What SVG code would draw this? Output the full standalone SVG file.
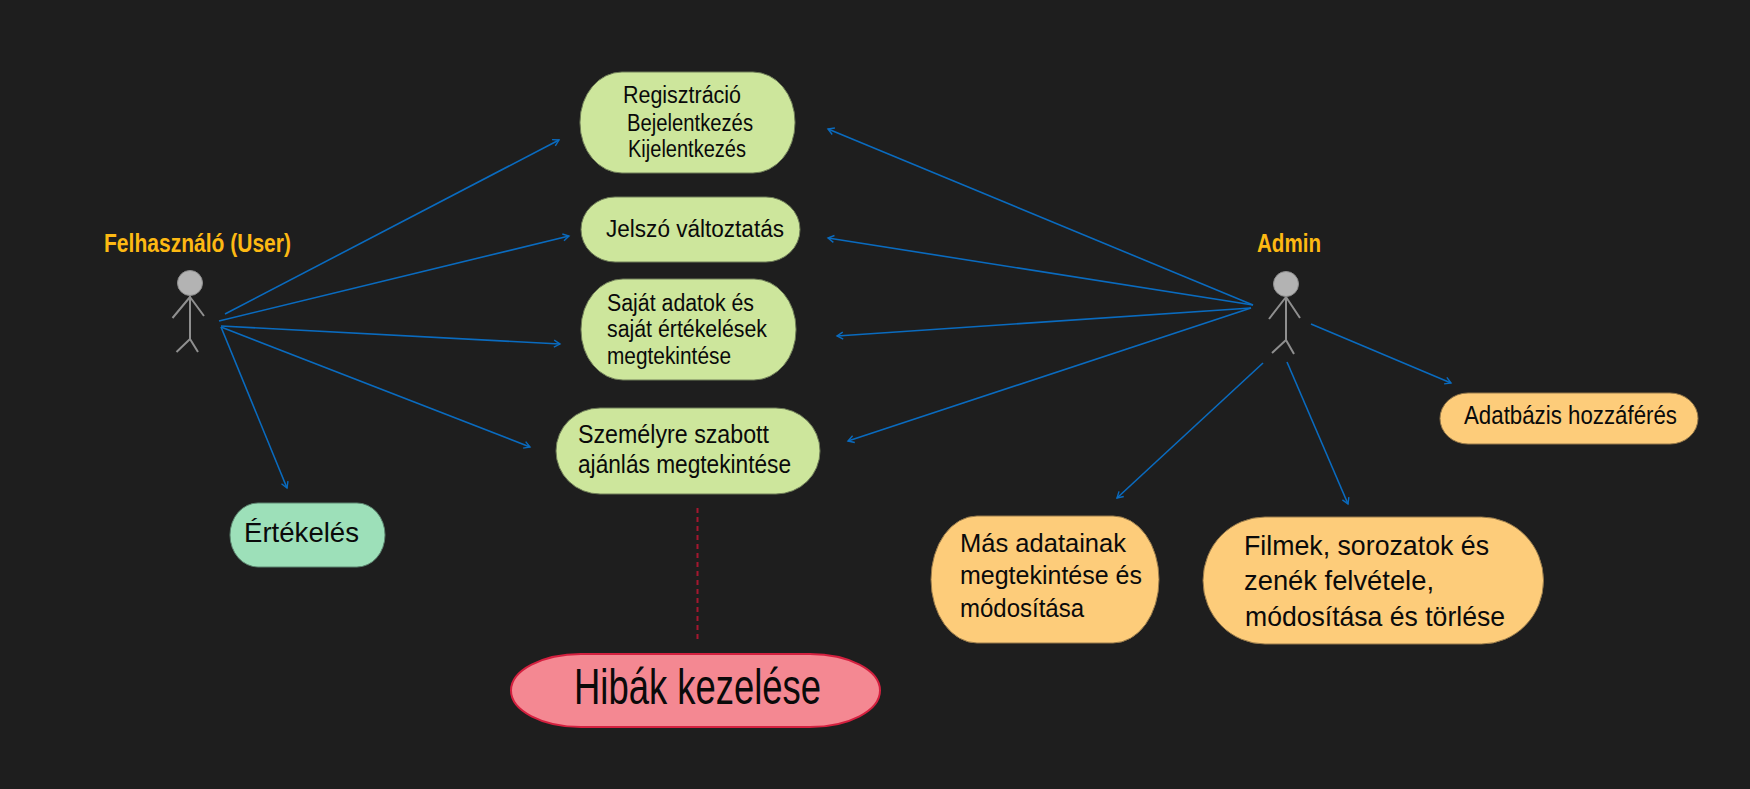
<svg xmlns="http://www.w3.org/2000/svg" width="1750" height="789" viewBox="0 0 1750 789">
<style>
text{font-family:"Liberation Sans Narrow","Liberation Sans",sans-serif;fill:#0a0a0a;font-size:23px}
.big{font-size:28px}.huge{font-size:50px}.mid{font-size:25px}.lg{font-size:26px}
.act{fill:#fdb913;font-size:25px;font-weight:bold}
.g{fill:#cde69c;stroke:#6f7d58;stroke-width:1}
.t{fill:#9de0b9;stroke:#5d8570;stroke-width:1}
.o{fill:#fdcc7a;stroke:#96794a;stroke-width:1}
.r{fill:#f48892;stroke:#d4203f;stroke-width:2}
.a{stroke:#0a6bbf;stroke-width:1.6;fill:none;marker-end:url(#arr)}
.d{stroke:#a5172f;stroke-width:2;stroke-dasharray:5 4;fill:none}
.fig{stroke:#8f8f8f;stroke-width:2;fill:none}
.head{fill:#b3b3b3;stroke:#8f8f8f;stroke-width:1}
</style>
<defs>
<marker id="arr" markerUnits="userSpaceOnUse" markerWidth="10" markerHeight="10" refX="8" refY="5" orient="auto"><path d="M2,1.5 L8,5 L2,8.500" fill="none" stroke="#0a6bbf" stroke-width="1.4"/></marker>
</defs>
<rect width="1750" height="789" fill="#1e1e1e"/>
<g id="connectors">
<line class="a" x1="225" y1="314" x2="559" y2="140"/>
<line class="a" x1="219" y1="321" x2="569" y2="236"/>
<line class="a" x1="221" y1="326" x2="560" y2="344"/>
<line class="a" x1="221" y1="327" x2="530" y2="447"/>
<line class="a" x1="221" y1="327" x2="287" y2="488"/>
<line class="a" x1="1253" y1="305" x2="828" y2="129"/>
<line class="a" x1="1253" y1="305" x2="828" y2="238"/>
<line class="a" x1="1251" y1="308" x2="837" y2="336"/>
<line class="a" x1="1251" y1="308" x2="848" y2="441"/>
<line class="a" x1="1311" y1="324" x2="1451" y2="383"/>
<line class="a" x1="1263" y1="363" x2="1117" y2="498"/>
<line class="a" x1="1287" y1="362" x2="1348" y2="504"/>
<line class="d" x1="697.500" y1="508" x2="697.500" y2="641"/>
</g>
<g id="actor-user">
<circle class="head" cx="190" cy="283" r="12.500"/>
<path class="fig" d="M190,296V339M190,297L172.500,318M190,297L204,316M190,339L176.500,352M190,339L198,352"/>
<text class="act" x="104" y="252" textLength="187" lengthAdjust="spacingAndGlyphs">Felhasználó (User)</text>
</g>
<g id="actor-admin">
<circle class="head" cx="1286" cy="284" r="12.500"/>
<path class="fig" d="M1286,297V340M1286,297L1269,319M1286,297L1300,318M1286,340L1272,353M1286,340L1294,354"/>
<text class="act" x="1257" y="252" textLength="64" lengthAdjust="spacingAndGlyphs">Admin</text>
</g>
<g id="node-auth">
<rect class="g" x="580" y="72" width="215" height="101" rx="42" ry="50"/>
<text x="623" y="103" textLength="118" lengthAdjust="spacingAndGlyphs">Regisztráció</text>
<text x="627" y="131" textLength="126" lengthAdjust="spacingAndGlyphs">Bejelentkezés</text>
<text x="628" y="157" textLength="118" lengthAdjust="spacingAndGlyphs">Kijelentkezés</text>
</g>
<g id="node-password">
<rect class="g" x="581" y="197" width="219" height="65" rx="34" ry="32.500"/>
<text x="606" y="237" textLength="178" lengthAdjust="spacingAndGlyphs">Jelszó változtatás</text>
</g>
<g id="node-own-data">
<rect class="g" x="581" y="279" width="215" height="101" rx="42" ry="50"/>
<text x="607" y="311" textLength="147" lengthAdjust="spacingAndGlyphs">Saját adatok és</text>
<text x="607" y="337" textLength="160" lengthAdjust="spacingAndGlyphs">saját értékelések</text>
<text x="607" y="364" textLength="124" lengthAdjust="spacingAndGlyphs">megtekintése</text>
</g>
<g id="node-recommendation">
<rect class="g" x="556" y="408" width="264" height="86" rx="44" ry="43"/>
<text class="mid" x="578" y="443" textLength="191" lengthAdjust="spacingAndGlyphs">Személyre szabott</text>
<text class="mid" x="578" y="473" textLength="213" lengthAdjust="spacingAndGlyphs">ajánlás megtekintése</text>
</g>
<g id="node-rating">
<rect class="t" x="230" y="503" width="155" height="64" rx="28" ry="32"/>
<text class="big" x="244" y="542" textLength="115" lengthAdjust="spacingAndGlyphs">Értékelés</text>
</g>
<g id="node-errors">
<rect class="r" x="511" y="654" width="369" height="73" rx="70" ry="36.500"/>
<text class="huge" x="574" y="704" textLength="247" lengthAdjust="spacingAndGlyphs">Hibák kezelése</text>
</g>
<g id="node-others-data">
<rect class="o" x="931" y="516" width="228" height="127" rx="46" ry="63.500"/>
<text class="lg" x="960" y="552" textLength="166" lengthAdjust="spacingAndGlyphs">Más adatainak</text>
<text class="lg" x="960" y="584" textLength="182" lengthAdjust="spacingAndGlyphs">megtekintése és</text>
<text class="lg" x="960" y="617" textLength="124" lengthAdjust="spacingAndGlyphs">módosítása</text>
</g>
<g id="node-content">
<rect class="o" x="1203" y="517" width="340.500" height="127" rx="62" ry="63.500"/>
<text class="big" x="1244" y="555" textLength="245" lengthAdjust="spacingAndGlyphs">Filmek, sorozatok és</text>
<text class="big" x="1244" y="590" textLength="190" lengthAdjust="spacingAndGlyphs">zenék felvétele,</text>
<text class="big" x="1245" y="626" textLength="260" lengthAdjust="spacingAndGlyphs">módosítása és törlése</text>
</g>
<g id="node-db">
<rect class="o" x="1440" y="393" width="258" height="51" rx="28" ry="25.500"/>
<text class="mid" x="1464" y="424" textLength="213" lengthAdjust="spacingAndGlyphs">Adatbázis hozzáférés</text>
</g>
</svg>
